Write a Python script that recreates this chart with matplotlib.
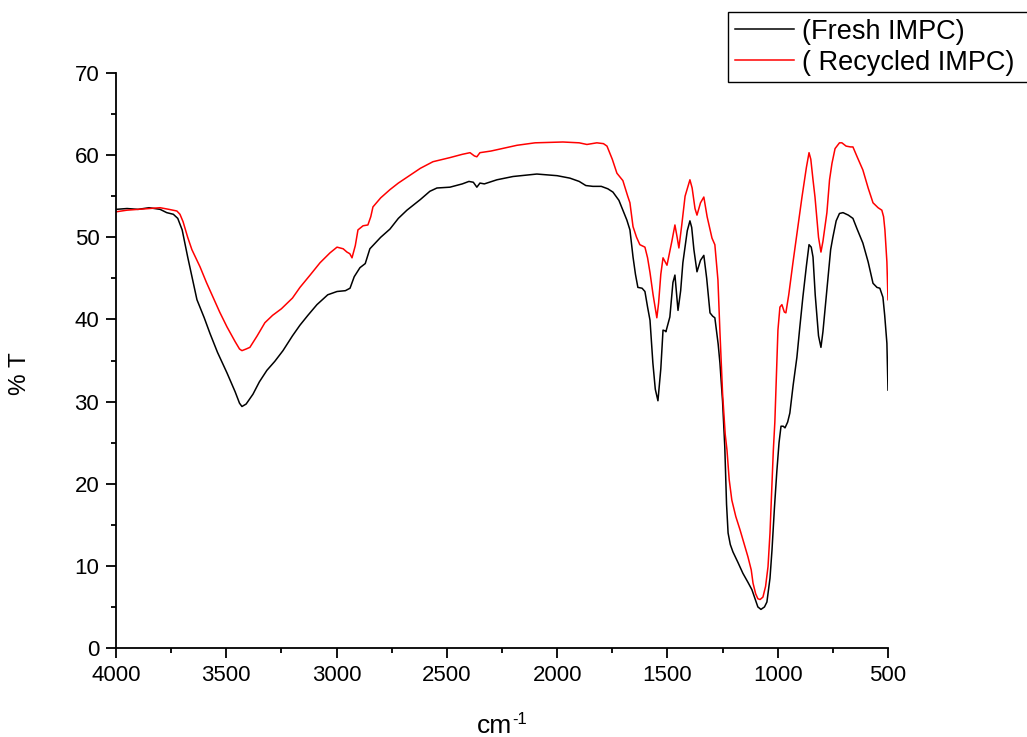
import matplotlib
matplotlib.use("Agg")
import matplotlib.pyplot as plt
from matplotlib.ticker import MultipleLocator

plt.rcParams['font.family'] = ['Liberation Sans', 'DejaVu Sans']

# Fresh IMPC (wavenumber cm^-1, %T)
fresh_wn = [4000, 3950, 3900, 3850, 3800, 3770, 3740, 3720, 3700, 3675, 3650, 3633, 3600, 3574,
            3540, 3497, 3460, 3440, 3429, 3410, 3379, 3350, 3316, 3280, 3243, 3200, 3166, 3130,
            3089, 3040, 2998, 2960, 2939, 2920, 2894, 2870, 2849, 2800, 2758, 2720, 2681, 2620,
            2577, 2545, 2486, 2430, 2400, 2380, 2364, 2350, 2330, 2273, 2200, 2092, 2000, 1942,
            1900, 1870, 1838, 1800, 1770, 1747, 1720, 1702, 1684, 1670, 1656, 1645, 1634, 1615,
            1602, 1590, 1579, 1566, 1555, 1543, 1530, 1520, 1510, 1507, 1489, 1475, 1466, 1458,
            1452, 1440, 1430, 1410, 1398, 1390, 1380, 1366, 1350, 1335, 1322, 1307, 1295, 1285,
            1270, 1262, 1250, 1240, 1232, 1225, 1215, 1203, 1180, 1158, 1135, 1117, 1100, 1090,
            1076, 1060, 1049, 1035, 1026, 1015, 1004, 994, 985, 975, 967, 955, 945, 930, 913,
            900, 886, 870, 858, 848, 840, 830, 815, 804, 795, 777, 760, 750, 735, 720, 704, 680,
            659, 640, 614, 590, 568, 550, 537, 523, 515, 505, 500]
fresh_t = [53.4, 53.5, 53.4, 53.6, 53.4, 53.0, 52.8, 52.3, 50.9, 47.6, 44.5, 42.4, 40.2, 38.3,
           36.0, 33.5, 31.2, 29.8, 29.4, 29.7, 30.9, 32.4, 33.8, 34.9, 36.2, 38.0, 39.3, 40.5,
           41.8, 43.0, 43.4, 43.5, 43.8, 45.2, 46.3, 46.8, 48.6, 50.0, 51.0, 52.3, 53.3, 54.6,
           55.6, 56.0, 56.1, 56.5, 56.8, 56.7, 56.1, 56.6, 56.5, 57.0, 57.4, 57.7, 57.5, 57.2,
           56.8, 56.3, 56.2, 56.2, 55.9, 55.5, 54.5, 53.3, 52.1, 50.9, 47.6, 45.5, 43.9, 43.8,
           43.4, 41.5, 39.9, 34.7, 31.5, 30.1, 34.0, 38.7, 38.6, 38.5, 40.3, 44.5, 45.4, 43.0,
           41.1, 43.5, 46.9, 50.8, 52.0, 51.2, 48.5, 45.8, 47.2, 47.8, 45.0, 40.8, 40.4, 40.2,
           37.0, 34.7, 30.0, 24.5, 17.5, 14.0, 12.6, 11.7, 10.4, 9.1, 8.0, 7.1, 5.8, 5.0,
           4.7, 5.0, 5.6, 8.5, 11.9, 17.0, 21.5, 25.0, 27.0, 27.0, 26.8, 27.5, 28.6, 32.0, 35.4,
           39.0, 42.7, 46.5, 49.1, 48.8, 47.6, 43.0, 38.0, 36.6, 38.5, 43.6, 48.5, 50.0, 52.0, 52.9, 53.0, 52.7,
           52.3, 51.0, 49.3, 47.0, 44.4, 43.9, 43.8, 42.7, 40.5, 37.1, 31.4]

# Recycled IMPC
recycled_wn = [4000, 3950, 3900, 3850, 3800, 3760, 3724, 3710, 3696, 3675, 3656, 3619, 3590, 3560,
               3530, 3497, 3460, 3440, 3429, 3410, 3393, 3360, 3325, 3290, 3250, 3200, 3166, 3120,
               3075, 3030, 2998, 2970, 2953, 2940, 2930, 2915, 2903, 2880, 2858, 2845, 2835, 2800,
               2758, 2720, 2681, 2620, 2563, 2486, 2430, 2395, 2375, 2364, 2350, 2300, 2250, 2182,
               2100, 1974, 1900, 1865, 1820, 1790, 1774, 1750, 1729, 1702, 1680, 1670, 1656, 1640,
               1625, 1602, 1590, 1579, 1565, 1548, 1540, 1530, 1520, 1510, 1502, 1480, 1466, 1456,
               1448, 1435, 1420, 1398, 1388, 1375, 1366, 1350, 1335, 1320, 1298, 1285, 1271, 1262,
               1250, 1238, 1230, 1220, 1208, 1190, 1171, 1150, 1135, 1120, 1112, 1100, 1090, 1080, 1067,
               1055, 1044, 1035, 1026, 1020, 1013, 1005, 999, 990, 981, 970, 963, 950, 931, 910,
               890, 870, 858, 850, 840, 831, 815, 804, 795, 777, 765, 754, 740, 720, 709, 690, 670,
               659, 640, 614, 590, 568, 545, 528, 520, 514, 505, 500]
recycled_t = [53.1, 53.3, 53.4, 53.5, 53.6, 53.4, 53.2, 52.8, 51.9, 50.0, 48.5, 46.4, 44.5, 42.7,
              40.9, 39.1, 37.3, 36.4, 36.2, 36.4, 36.6, 38.0, 39.6, 40.5, 41.3, 42.6, 43.9, 45.4,
              46.9, 48.1, 48.8, 48.6, 48.2, 48.0, 47.5, 49.0, 50.9, 51.4, 51.5, 52.5, 53.7, 54.8,
              55.8, 56.6, 57.3, 58.4, 59.2, 59.7, 60.1, 60.3, 59.9, 59.8, 60.3, 60.5, 60.8, 61.2,
              61.5, 61.6, 61.5, 61.3, 61.5, 61.4, 61.1, 59.5, 57.8, 56.9, 55.0, 54.2, 51.3, 50.0,
              49.1, 48.8, 47.5, 45.7, 43.0, 40.2, 42.0, 45.5, 47.5, 47.0, 46.6, 49.5, 51.5, 50.0,
              48.7, 51.5, 55.0, 57.0, 56.0, 53.5, 52.7, 54.2, 54.9, 52.5, 49.9, 49.1, 44.8, 38.5,
              31.0, 26.0, 24.1, 20.5, 18.0, 16.0, 14.4, 12.5, 11.1, 9.5, 7.9, 6.6, 6.0, 5.9, 6.2,
              7.5, 9.9, 14.0, 20.1, 24.0, 27.5, 34.0, 38.7, 41.5, 41.8, 40.9, 40.8, 43.0, 46.9, 51.0,
              54.9, 58.5, 60.3, 59.5, 57.0, 54.9, 50.0, 48.2, 49.5, 53.0, 57.0, 59.0, 60.8, 61.5, 61.5, 61.1, 61.0,
              61.0, 59.8, 58.2, 56.0, 54.2, 53.6, 53.3, 52.5, 50.9, 47.0, 42.4]

x_ticks = [4000, 3500, 3000, 2500, 2000, 1500, 1000, 500]
y_ticks = [0, 10, 20, 30, 40, 50, 60, 70]

fig = plt.figure(figsize=(10.27, 7.37), dpi=100)
ax = fig.add_axes([116/1027, 1 - 648/737, (888-116)/1027, (648-73)/737])

l1, = ax.plot(fresh_wn, fresh_t, color='black', lw=1.1, label='(Fresh IMPC)')
l2, = ax.plot(recycled_wn, recycled_t, color='red', lw=1.1, label='( Recycled IMPC)')

ax.set_xlim(4000, 500)
ax.set_ylim(0, 70)
ax.set_xticks(x_ticks)
ax.set_yticks(y_ticks)
ax.xaxis.set_minor_locator(MultipleLocator(250))
ax.yaxis.set_minor_locator(MultipleLocator(5))
for s in ['top', 'right']:
    ax.spines[s].set_visible(False)
for s in ['left', 'bottom']:
    ax.spines[s].set_linewidth(1.3)
ax.tick_params(which='major', direction='out', length=7, width=1.3, labelsize=16, pad=5)
ax.tick_params(which='minor', direction='out', length=3.8, width=1.3)

fig.text(477/1027, 1 - 733/737, 'cm', ha='left', va='baseline', fontsize=19)
fig.text(512/1027, 1 - 724/737, '-1', ha='left', va='baseline', fontsize=12)
fig.text(20/1027, 1 - 374/737, '% T', ha='center', va='center', rotation=90, fontsize=17.5)

leg = fig.legend(handles=[l1, l2], loc='upper left',
                 bbox_to_anchor=(728/1027, 1 - 12/737, 320/1027, 0.0), mode='expand',
                 borderaxespad=0, fancybox=False, framealpha=1, edgecolor='black',
                 fontsize=19.5, handlelength=2.2, handletextpad=0.3, labelspacing=0.18,
                 borderpad=0.25)
leg.get_frame().set_linewidth(1.0)

fig.savefig('out.png', dpi=100)
